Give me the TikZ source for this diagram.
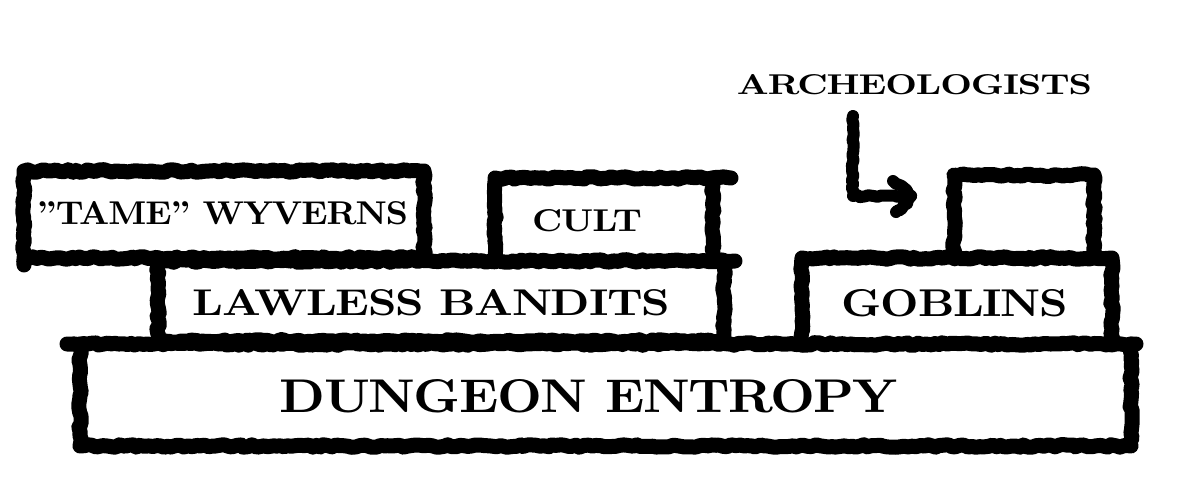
\documentclass[tikz,border=0pt]{standalone}
\usepackage{fontspec}
\newfontfamily\capfont{lmroman10-bold.otf}[LetterSpace=-3]
\usetikzlibrary{decorations.pathmorphing}
\begin{document}
\begin{tikzpicture}[x=1pt,y=-1pt,
  rough/.style={line width=15pt, line join=round, line cap=round, decorate,
    decoration={random steps, segment length=4pt, amplitude=1.3pt}},
  roughthin/.style={rough, line width=12pt},
  lbl/.style={inner sep=0pt, anchor=center, font=\capfont}]
\pgfmathsetseed{7}
\useasboundingbox (0,0) rectangle (1178,497);
% "TAME" WYVERNS box
\draw[rough] (24,265) -- (24,171) -- (424,171) -- (424,258) -- (24,258);
% CULT box
\draw[rough] (495,261) -- (495,178) -- (731,178);
\draw[rough] (713,178) -- (713,261);
% LAWLESS BANDITS box
\draw[rough] (158,341) -- (158,261) -- (735,261);
\draw[rough] (724,261) -- (724,341) -- (158,341);
% empty box
\draw[rough] (954,258) -- (954,175) -- (1094,175) -- (1094,258);
% GOBLINS box
\draw[rough] (802,345) -- (802,258) -- (1112,258) -- (1112,345);
% DUNGEON ENTROPY box
\draw[rough] (67,344) -- (1136,344);
\draw[rough] (80,344) -- (80,446) -- (1131,446) -- (1131,344);
% arrow
\coordinate (a0) at (853,116);
\coordinate (a1) at (853,196);
\coordinate (a2) at (911,196);
\coordinate (h1) at (893,181);
\coordinate (h2) at (896,212);
\draw[roughthin] (a0) -- (a1) -- (a2);
\draw[roughthin] (h1) to[bend left=15] (a2) to[bend left=15] (h2);
% labels
\node[lbl] (arch) at (914.5,85) {\resizebox{355pt}{20pt}{ARCHEOLOGISTS}};
\node[lbl] (wyv) at (222.5,213.5) {\resizebox{371pt}{23pt}{\textquotedblright TAME\textquotedblright\ WYVERNS}};
\node[lbl] (cult) at (587,221) {\resizebox{110pt}{22pt}{CULT}};
\node[lbl] (band) at (431.5,302.5) {\resizebox{477pt}{26pt}{LAWLESS BANDITS}};
\node[lbl] (gob) at (955,303.5) {\resizebox{226pt}{27pt}{GOBLINS}};
\node[lbl] (dung) at (589,396) {\resizebox{618pt}{33pt}{DUNGEON ENTROPY}};
\end{tikzpicture}
\end{document}
